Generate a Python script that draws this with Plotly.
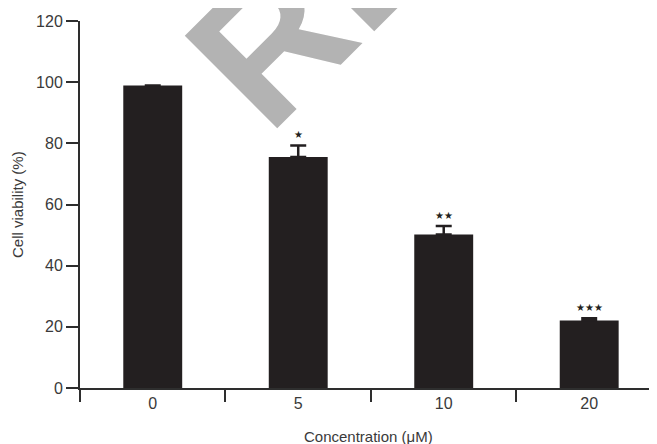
import plotly.graph_objects as go

categories = ["0", "5", "10", "20"]
viability = [98.9, 75.5, 50.2, 22.1]
sem = [0.0, 3.8, 2.8, 0.7]
significance = ["", "★", "★★", "★★★"]

ink = "#231f20"
axis_col = "#2e2e2e"
text_col = "#3a3a3a"

fig = go.Figure()
fig.add_trace(go.Bar(
    x=categories, y=viability, width=0.405,
    marker=dict(color=ink, line=dict(width=0)),
    error_y=dict(type="data", array=sem, arrayminus=[0] * len(sem), symmetric=False,
                 color=ink, thickness=2.5, width=8),
    showlegend=False,
))

annotations = []
for i, (v, e, s) in enumerate(zip(viability, sem, significance)):
    if s:
        annotations.append(dict(x=i, y=v + e, xref="x", yref="y", text=s, showarrow=False,
                                yanchor="bottom", yshift=3,
                                font=dict(family="DejaVu Sans", size=10, color=ink)))

# axis titles
annotations.append(dict(x=0.5, y=0, xref="paper", yref="paper", text="Concentration (μM)",
                        showarrow=False, yanchor="top", yshift=-38,
                        font=dict(family="Liberation Sans", size=15, color=text_col)))
annotations.append(dict(x=0, y=0.5, xref="paper", yref="paper", text="Cell viability (%)",
                        showarrow=False, xanchor="right", xshift=-52, textangle=-90,
                        font=dict(family="Liberation Sans", size=15, color=text_col)))
# watermark
annotations.append(dict(x=0.408, y=1.065, xref="paper", yref="paper", text="<b>RE</b>",
                        showarrow=False, textangle=-45, xanchor="center", yanchor="middle",
                        font=dict(family="Liberation Sans", size=190, color="#b3b3b3")))

# page body has an 8px default margin, so the figure is sized to fit inside the window
fig.update_layout(
    width=649, height=436,
    margin=dict(l=72, r=0, t=13, b=56, autoexpand=False),
    paper_bgcolor="white", plot_bgcolor="white",
    font=dict(family="Liberation Sans", color=text_col),
    xaxis=dict(type="category", range=[-0.5, 3.466], tickson="boundaries",
               ticks="outside", ticklen=12, tickwidth=2, tickcolor=axis_col,
               showline=True, linecolor=axis_col, linewidth=2,
               showgrid=False, zeroline=False, automargin=False,
               tickfont=dict(size=16, color=text_col)),
    yaxis=dict(range=[0, 120], tickvals=[0, 20, 40, 60, 80, 100, 120],
               ticks="outside", ticklen=12, tickwidth=2, tickcolor=axis_col,
               showline=True, linecolor=axis_col, linewidth=2,
               showgrid=False, zeroline=False, automargin=False,
               tickfont=dict(size=16, color=text_col)),
    annotations=annotations,
    bargap=0.6,
)

fig.write_html("out.html")
